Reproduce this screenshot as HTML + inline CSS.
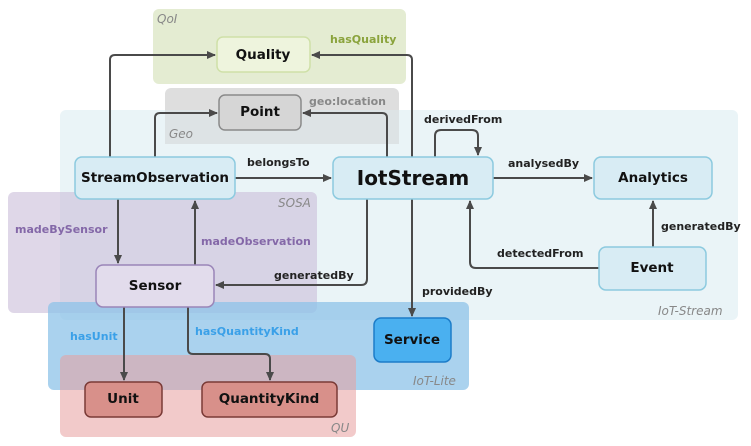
<!DOCTYPE html>
<html><head><meta charset="utf-8"><style>
html,body{margin:0;padding:0;background:#fff;}
svg{display:block;}
text{font-family:"DejaVu Sans","Liberation Sans",sans-serif;font-weight:bold;}
.n{font-size:13.5px;fill:#111;text-anchor:middle;dominant-baseline:central;}
.l{font-size:11px;fill:#222;}
.r{font-size:12px;fill:#888;font-style:italic;font-weight:normal;}
.e{fill:none;stroke:#4a4a4a;stroke-width:2;}
</style></head><body>
<svg width="751" height="446" viewBox="0 0 751 446" xmlns="http://www.w3.org/2000/svg">
<defs><marker id="a" markerWidth="10" markerHeight="10" refX="8" refY="5" orient="auto" markerUnits="userSpaceOnUse"><path d="M0,1 L9,5 L0,9 Z" fill="#4a4a4a"/></marker></defs>
<rect x="153" y="9" width="253" height="75" rx="6" fill="#e4ecd2"/>
<rect x="165" y="88" width="234" height="56" rx="6" fill="#dedede"/>
<rect x="60" y="110" width="678" height="210" rx="6" fill="#e9f3f7" opacity="0.95"/>
<rect x="165" y="110" width="234" height="34" fill="#dde3e5"/>
<rect x="8" y="192" width="309" height="121" rx="6" fill="#c9bcd8" opacity="0.6"/>
<rect x="48" y="302" width="421" height="88" rx="6" fill="#8ec3e8" opacity="0.75"/>
<rect x="60" y="355" width="296" height="82" rx="6" fill="#e89e9e" opacity="0.55"/>
<text class="r" x="157" y="23">QoI</text>
<text class="r" x="169" y="138">Geo</text>
<text class="r" x="278" y="207">SOSA</text>
<text class="r" x="658" y="315">IoT-Stream</text>
<text class="r" x="413" y="385">IoT-Lite</text>
<text class="r" x="331" y="432">QU</text>
<path class="e" d="M110,157 V60 Q110,55 115,55 H215" marker-end="url(#a)"/>
<path class="e" d="M155,157 V118 Q155,113 160,113 H217" marker-end="url(#a)"/>
<path class="e" d="M412,157 V60 Q412,55 407,55 H312" marker-end="url(#a)"/>
<path class="e" d="M387,157 V118 Q387,113 382,113 H303" marker-end="url(#a)"/>
<path class="e" d="M235,178 H331" marker-end="url(#a)"/>
<path class="e" d="M435,157 V136 Q435,130 441,130 H472 Q478,130 478,136 V155" marker-end="url(#a)"/>
<path class="e" d="M493,178 H592" marker-end="url(#a)"/>
<path class="e" d="M653,247 V201" marker-end="url(#a)"/>
<path class="e" d="M599,268 H476 Q470,268 470,262 V201" marker-end="url(#a)"/>
<path class="e" d="M367,199 V279 Q367,285 361,285 H216" marker-end="url(#a)"/>
<path class="e" d="M412,199 V316" marker-end="url(#a)"/>
<path class="e" d="M118,199 V263" marker-end="url(#a)"/>
<path class="e" d="M195,265 V201" marker-end="url(#a)"/>
<path class="e" d="M124,307 V380" marker-end="url(#a)"/>
<path class="e" d="M188,307 V349 Q188,354 193,354 H265 Q270,354 270,359 V380" marker-end="url(#a)"/>
<text class="l" x="330" y="43" style="fill:#8aa33c">hasQuality</text>
<text class="l" x="309" y="105" style="fill:#888">geo:location</text>
<text class="l" x="247" y="166">belongsTo</text>
<text class="l" x="424" y="123">derivedFrom</text>
<text class="l" x="508" y="167">analysedBy</text>
<text class="l" x="661" y="230">generatedBy</text>
<text class="l" x="497" y="257">detectedFrom</text>
<text class="l" x="274" y="279">generatedBy</text>
<text class="l" x="422" y="295">providedBy</text>
<text class="l" x="15" y="233" style="fill:#8468a8">madeBySensor</text>
<text class="l" x="201" y="245" style="fill:#8468a8">madeObservation</text>
<text class="l" x="70" y="340" style="fill:#3aa0e8">hasUnit</text>
<text class="l" x="195" y="335" style="fill:#3aa0e8">hasQuantityKind</text>
<rect x="217" y="37" width="93" height="35" rx="6" fill="#eef4dd" stroke="#cfe0a8" stroke-width="1.5"/>
<text class="n" x="263" y="55">Quality</text>
<rect x="219" y="95" width="82" height="35" rx="6" fill="#d6d6d6" stroke="#8a8a8a" stroke-width="1.5"/>
<text class="n" x="260" y="112">Point</text>
<rect x="75" y="157" width="160" height="42" rx="7" fill="#d8ecf4" stroke="#8ccadf" stroke-width="1.5"/>
<text class="n" x="155" y="178">StreamObservation</text>
<rect x="333" y="157" width="160" height="42" rx="7" fill="#d8ecf4" stroke="#8ccadf" stroke-width="1.5"/>
<text class="n" x="413" y="178" style="font-size:20px">IotStream</text>
<rect x="594" y="157" width="118" height="42" rx="7" fill="#d8ecf4" stroke="#8ccadf" stroke-width="1.5"/>
<text class="n" x="653" y="178">Analytics</text>
<rect x="599" y="247" width="107" height="43" rx="7" fill="#d8ecf4" stroke="#8ccadf" stroke-width="1.5"/>
<text class="n" x="652" y="268">Event</text>
<rect x="96" y="265" width="118" height="42" rx="7" fill="#e2dcec" stroke="#9a85b8" stroke-width="1.5"/>
<text class="n" x="155" y="286">Sensor</text>
<rect x="374" y="318" width="77" height="44" rx="7" fill="#4ab0f0" stroke="#1c7cc8" stroke-width="1.5"/>
<text class="n" x="412" y="340">Service</text>
<rect x="85" y="382" width="77" height="35" rx="6" fill="#d8908a" stroke="#7a3a36" stroke-width="1.5"/>
<text class="n" x="123" y="399">Unit</text>
<rect x="202" y="382" width="135" height="35" rx="6" fill="#d8908a" stroke="#7a3a36" stroke-width="1.5"/>
<text class="n" x="269" y="399">QuantityKind</text>
</svg>
</body></html>
